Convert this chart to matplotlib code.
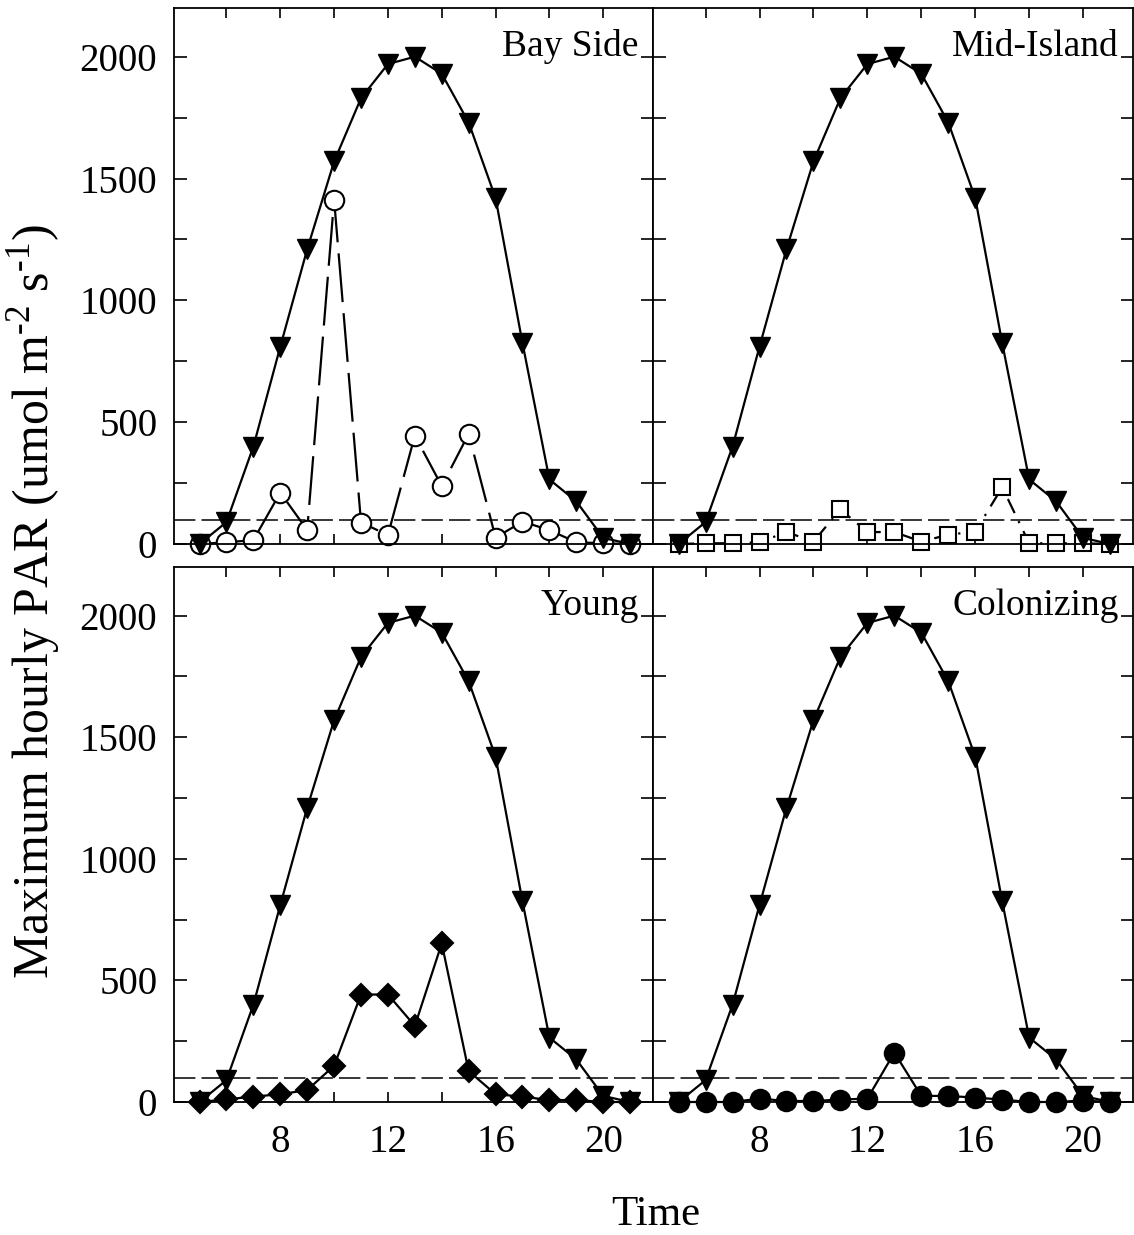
import numpy as np
import matplotlib
matplotlib.use('Agg')
import matplotlib.pyplot as plt
from matplotlib.ticker import MultipleLocator, FixedLocator

plt.rcParams['font.family'] = ['Liberation Serif', 'DejaVu Serif']
plt.rcParams['mathtext.fontset'] = 'custom'
plt.rcParams['mathtext.rm'] = 'Liberation Serif'

hours = list(range(5, 22))

# open-sky reference (same in every panel)
reference = [0, 90, 400, 810, 1210, 1570, 1830, 1970, 2000, 1930, 1730,
             1420, 825, 265, 175, 25, 0]

bay_side = [0, 7, 16, 211, 57, 1413, 88, 37, 445, 238, 452, 26, 92, 57, 7, 3, 0]
mid_island = [0, 3, 3, 7, 49, 10, 142, 49, 49, 10, 38, 51, 233, 3, 3, 3, 0]
young = [0, 11, 22, 32, 49, 149, 442, 442, 313, 652, 127, 32, 22, 8, 8, 0, 0]
colonizing = [0, 0, 0, 14, 4, 4, 10, 14, 203, 25, 25, 18, 10, 0, 0, 6, 0]

threshold = 100
panel_names = ['Bay Side', 'Mid-Island', 'Young', 'Colonizing']

fig = plt.figure(figsize=(11.34, 12.35), dpi=100)
W, H = 1134, 1235
boxes = [(174, 8, 653, 544), (653, 8, 1133, 544),
         (174, 567, 653, 1102), (653, 567, 1133, 1102)]
axes = []
for x0, y0, x1, y1 in boxes:
    axes.append(fig.add_axes([x0 / W, 1 - y1 / H, (x1 - x0) / W, (y1 - y0) / H]))

series = [
    (bay_side, dict(marker='o', mfc='white', ms=14, ls=(0, (22, 5)))),
    (mid_island, dict(marker='s', mfc='white', ms=11.5, ls=(0, (7, 4, 1, 4)))),
    (young, dict(marker='D', mfc='black', ms=11.5, ls='-')),
    (colonizing, dict(marker='o', mfc='black', ms=14, ls='-')),
]

for i, ax in enumerate(axes):
    vals, st = series[i]
    ax.axhline(threshold, color='black', lw=1.1, ls=(0, (14, 4)), zorder=1)
    ax.plot(hours, vals, color='black', lw=1.6, mec='black', mew=1.5,
            zorder=2, clip_on=False, **st)
    ax.plot(hours, reference, color='black', lw=1.6, marker='v', ms=14,
            mfc='black', mec='black', zorder=3, clip_on=False)
    ax.set_xlim(4.05, 21.85)
    ax.set_ylim(0, 2200)
    ax.xaxis.set_major_locator(FixedLocator([8, 12, 16, 20]))
    ax.xaxis.set_minor_locator(FixedLocator([6, 10, 14, 18]))
    ax.yaxis.set_major_locator(MultipleLocator(500))
    ax.yaxis.set_minor_locator(MultipleLocator(250))
    ax.tick_params(which='both', direction='in', top=True, right=True,
                   labelsize=28, width=1.2)
    ax.tick_params(which='both', axis='y', length=9, pad=12)
    ax.tick_params(which='both', axis='x', length=7, pad=16)
    for s in ax.spines.values():
        s.set_linewidth(1.3)
    if i % 2 == 1:
        ax.tick_params(labelleft=False)
    if i < 2:
        ax.tick_params(labelbottom=False)
    ax.text(0.97, 0.96, panel_names[i], transform=ax.transAxes,
            ha='right', va='top', fontsize=27)

fig.text(0.03, 0.513,
         r'Maximum hourly PAR (umol m$^{\text{-2}}$ s$^{\text{-1}}$)',
         rotation=90, ha='center', va='center', fontsize=36)
fig.text(0.578, 0.016, 'Time', ha='center', va='center', fontsize=31)

fig.savefig('out.png', dpi=100)
